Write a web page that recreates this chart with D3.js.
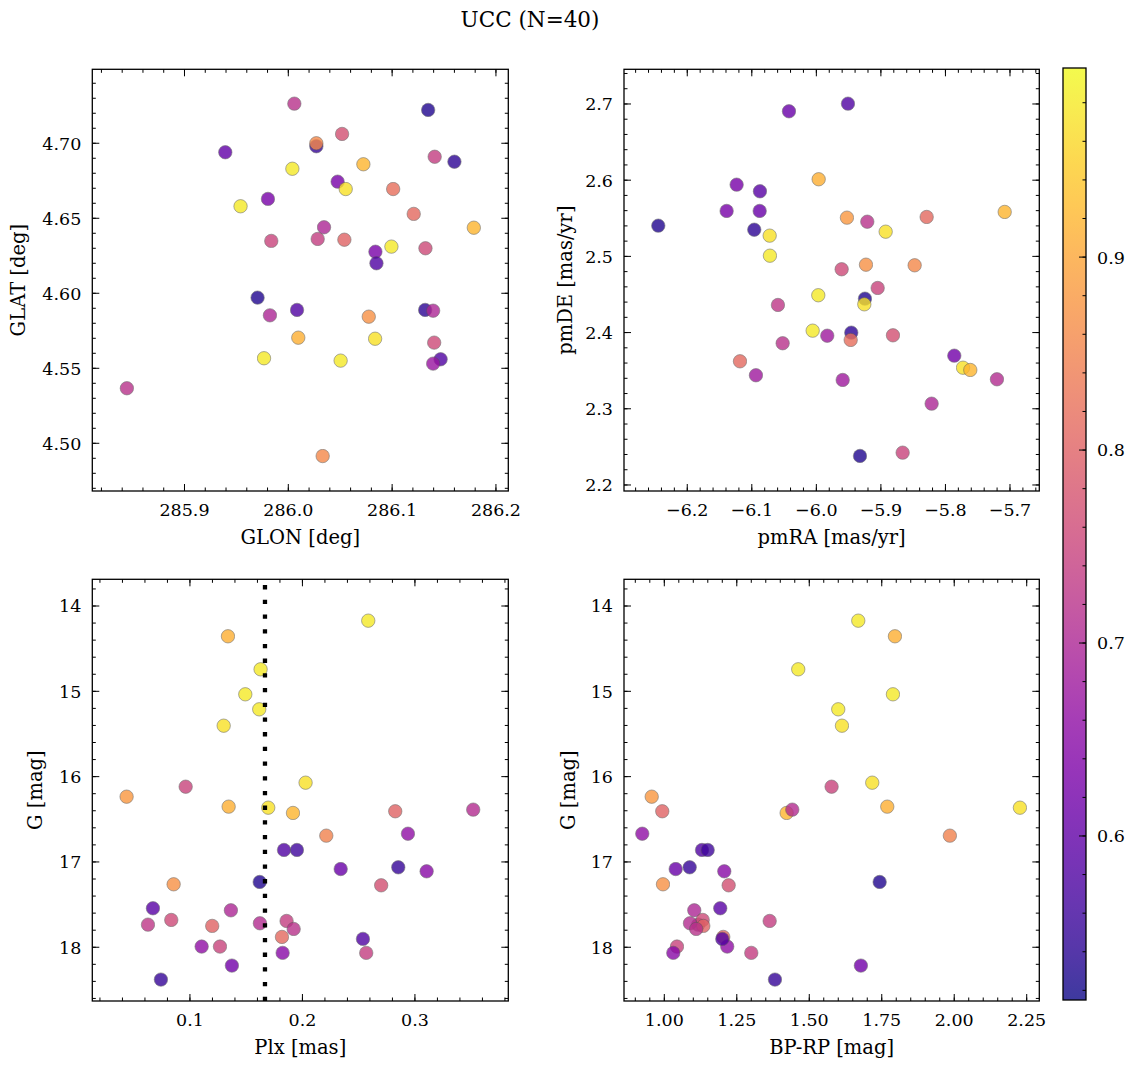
<!DOCTYPE html>
<html><head><meta charset="utf-8">
<script src="https://cdn.jsdelivr.net/npm/d3@7"></script>
<style>body{margin:0;background:#fff}svg text{font-family:"DejaVu Serif",serif;fill:#000}</style>
</head><body><svg id="c" width="1136" height="1068"></svg>
<script>
// ---- data ----
const glon = [286.0058,286.1347,286.0518,286.027,285.9393,286.141,286.160,286.0039,286.0723,286.0475,286.0553,286.101,285.9804,285.954,286.1208,286.1787,286.0344,285.9836,286.0283,286.054,286.0839,286.0993,286.1321,286.0849,285.9704,286.0084,285.9823,286.1318,286.1395,286.0775,286.0096,286.0836,286.1405,285.9766,286.0504,286.1467,286.1395,285.8445,286.0331,286.027];
const glat = [4.7264,4.7222,4.7062,4.6980,4.694,4.691,4.6877,4.683,4.686,4.6744,4.6695,4.6695,4.6629,4.658,4.6529,4.6437,4.644,4.6349,4.6362,4.6357,4.6277,4.6311,4.630,4.620,4.5971,4.5889,4.5853,4.5889,4.5884,4.5844,4.5704,4.5697,4.5671,4.5567,4.5551,4.556,4.5531,4.5367,4.4915,4.7000];
const probPos = [0.72,0.53,0.77,0.55,0.60,0.74,0.54,0.98,0.92,0.63,0.97,0.82,0.63,0.98,0.81,0.92,0.70,0.75,0.74,0.80,0.63,0.98,0.76,0.58,0.53,0.58,0.70,0.54,0.70,0.87,0.91,0.97,0.76,0.98,0.98,0.58,0.67,0.72,0.86,0.86];

const pmra = [-5.951,-6.0424,-5.9964,-6.1235,-6.0874,-6.139,-6.0878,-5.7082,-5.9526,-5.8291,-5.9211,-6.2449,-6.0962,-6.0723,-5.8926,-6.0719,-5.9608,-5.9231,-5.8477,-5.905,-5.997,-5.9247,-5.9257,-6.0595,-6.0057,-5.9831,-5.9459,-5.9468,-5.8813,-6.0522,-5.7863,-6.1183,-5.7728,-5.7615,-6.0936,-5.9592,-5.7202,-5.8214,-5.8663,-5.9324];
const pmde = [2.7004,2.6904,2.6012,2.5941,2.5854,2.5596,2.5596,2.5583,2.5508,2.5517,2.5455,2.5403,2.535,2.5272,2.5324,2.5009,2.4831,2.4891,2.4883,2.4585,2.449,2.4445,2.4371,2.4362,2.4025,2.3959,2.3999,2.3903,2.3964,2.386,2.3697,2.3623,2.3539,2.3509,2.344,2.3378,2.3387,2.3067,2.2424,2.2381];
const probPM = [0.58,0.61,0.91,0.63,0.59,0.63,0.61,0.92,0.88,0.81,0.72,0.53,0.54,0.97,0.97,0.98,0.76,0.87,0.86,0.75,0.98,0.53,0.97,0.73,0.98,0.68,0.54,0.82,0.77,0.72,0.62,0.81,0.97,0.92,0.68,0.68,0.71,0.70,0.75,0.53];

const gmag = [14.172,14.355,14.742,15.035,15.211,15.403,16.071,16.118,16.235,16.352,16.364,16.426,16.406,16.387,16.692,16.669,16.860,16.860,17.083,17.063,17.11,17.235,17.274,17.262,17.543,17.567,17.735,17.680,17.75,17.719,17.692,17.786,17.879,17.992,17.992,18.066,17.902,18.066,18.215,18.379];
const plx = [0.2585,0.1338,0.1628,0.1492,0.1616,0.13,0.2028,0.0962,0.0437,0.1344,0.1696,0.1916,0.2825,0.3518,0.2212,0.2938,0.1836,0.1951,0.234,0.2852,0.3104,0.162,0.27,0.0855,0.0671,0.1364,0.0627,0.0834,0.1198,0.1622,0.1859,0.1922,0.1818,0.1104,0.1267,0.1824,0.2538,0.2567,0.1373,0.0742];
const bprp = [1.669,1.7955,1.462,1.7886,1.60,1.6128,1.7172,1.577,0.9566,1.769,2.2266,1.422,0.993,1.4414,1.985,0.924,1.13,1.1497,1.0393,1.0876,1.2069,1.7428,1.222,0.9955,1.193,1.1034,1.117,1.1324,1.1345,1.0886,1.3634,1.11,1.2034,1.217,1.0438,1.031,1.20,1.30,1.678,1.3817];
const probPhot = [0.98,0.91,0.98,0.98,0.98,0.97,0.97,0.75,0.88,0.91,0.97,0.92,0.80,0.71,0.85,0.66,0.58,0.56,0.61,0.55,0.65,0.53,0.77,0.87,0.59,0.70,0.73,0.76,0.80,0.71,0.74,0.72,0.81,0.66,0.75,0.65,0.58,0.74,0.62,0.55];
const plxLine = 0.1667;

const title = "UCC (N=40)";
const cbarTicks = [0.6,0.7,0.8,0.9];
const cbarDomain = [0.515,0.998];

// ---- drawing ----
const svg = d3.select("#c");
const color = d3.scaleSequential(d3.interpolatePlasma).domain(cbarDomain);
const FS = 17.5, LFS = 19.5;

svg.append("text").attr("x",530).attr("y",27).attr("text-anchor","middle").attr("font-size",21.5).text(title);

function range(a,b,s){const o=[];for(let v=a;v<=b+s*1e-6;v+=s)o.push(+v.toFixed(6));return o;}

function panel(o){
  const g = svg.append("g");
  const x = d3.scaleLinear().domain(o.xd).range([o.x0,o.x1]);
  const y = d3.scaleLinear().domain(o.yd).range(o.yInv?[o.y0,o.y1]:[o.y1,o.y0]);
  const clipId = "clip"+o.id;
  svg.append("clipPath").attr("id",clipId).append("rect").attr("x",o.x0).attr("y",o.y0).attr("width",o.x1-o.x0).attr("height",o.y1-o.y0);
  const pts = g.append("g").attr("clip-path",`url(#${clipId})`);
  o.data.forEach(d=>{
    pts.append("circle").attr("cx",x(d[0])).attr("cy",y(d[1])).attr("r",6.7)
      .attr("fill",color(d[2])).attr("stroke","#555").attr("stroke-width",0.6).attr("opacity",0.8);
  });
  if(o.vline!==undefined){
    pts.append("line").attr("x1",x(o.vline)).attr("x2",x(o.vline)).attr("y1",o.y1).attr("y2",o.y0)
      .attr("stroke","#000").attr("stroke-width",4.3).attr("stroke-dasharray","4.3,10.4");
  }
  const tk = g.append("g").attr("stroke","#000").attr("stroke-width",1);
  const inX = v=>{const p=x(v);return p>=o.x0-0.5&&p<=o.x1+0.5;};
  const inY = v=>{const p=y(v);return p>=o.y0-0.5&&p<=o.y1+0.5;};
  o.xmin.filter(inX).forEach(v=>{const p=x(v);
    tk.append("line").attr("x1",p).attr("x2",p).attr("y1",o.y1).attr("y2",o.y1-3.5);
    tk.append("line").attr("x1",p).attr("x2",p).attr("y1",o.y0).attr("y2",o.y0+3.5);});
  o.xmaj.filter(inX).forEach(v=>{const p=x(v);
    tk.append("line").attr("x1",p).attr("x2",p).attr("y1",o.y1).attr("y2",o.y1-7);
    tk.append("line").attr("x1",p).attr("x2",p).attr("y1",o.y0).attr("y2",o.y0+7);
    g.append("text").attr("x",p).attr("y",o.y1+25).attr("text-anchor","middle").attr("font-size",FS).text(d3.format(o.xf)(v));});
  o.ymin.filter(inY).forEach(v=>{const p=y(v);
    tk.append("line").attr("x1",o.x0).attr("x2",o.x0+3.5).attr("y1",p).attr("y2",p);
    tk.append("line").attr("x1",o.x1).attr("x2",o.x1-3.5).attr("y1",p).attr("y2",p);});
  o.ymaj.filter(inY).forEach(v=>{const p=y(v);
    tk.append("line").attr("x1",o.x0).attr("x2",o.x0+7).attr("y1",p).attr("y2",p);
    tk.append("line").attr("x1",o.x1).attr("x2",o.x1-7).attr("y1",p).attr("y2",p);
    g.append("text").attr("x",o.x0-11).attr("y",p+6.4).attr("text-anchor","end").attr("font-size",FS).text(d3.format(o.yf)(v));});
  g.append("rect").attr("x",o.x0).attr("y",o.y0).attr("width",o.x1-o.x0).attr("height",o.y1-o.y0)
    .attr("fill","none").attr("stroke","#000").attr("stroke-width",1.3);
  g.append("text").attr("x",(o.x0+o.x1)/2).attr("y",o.y1+53).attr("text-anchor","middle").attr("font-size",LFS).text(o.xl);
  g.append("text").attr("transform",`translate(${o.ylx},${(o.y0+o.y1)/2}) rotate(-90)`).attr("dy","0.35em")
    .attr("text-anchor","middle").attr("font-size",LFS).text(o.yl);
}

const zip3=(a,b,c)=>a.map((v,i)=>[v,b[i],c[i]]);

panel({id:1,x0:92.3,x1:508.3,y0:69.3,y1:491,xd:[285.8112,286.2119],yd:[4.4682,4.7493],
  data:zip3(glon,glat,probPos),xmaj:range(285.9,286.2,0.1),xmin:range(285.82,286.22,0.02),
  ymaj:range(4.50,4.70,0.05),ymin:range(4.47,4.75,0.01),xf:".1f",yf:".2f",xl:"GLON [deg]",yl:"GLAT [deg]",ylx:18});
panel({id:2,x0:624,x1:1039.3,y0:69.3,y1:491,xd:[-6.298,-5.6546],yd:[2.1921,2.7455],
  data:zip3(pmra,pmde,probPM),xmaj:range(-6.2,-5.7,0.1),xmin:range(-6.30,-5.64,0.02),
  ymaj:range(2.2,2.7,0.1),ymin:range(2.2,2.74,0.02),xf:".1f",yf:".1f",xl:"pmRA [mas/yr]",yl:"pmDE [mas/yr]",ylx:565});
panel({id:3,x0:92.3,x1:508.3,y0:579.3,y1:1001,xd:[0.0132,0.383],yd:[13.687,18.63],yInv:true,
  data:zip3(plx,gmag,probPhot),xmaj:range(0.1,0.3,0.1),xmin:range(0.02,0.38,0.02),
  ymaj:range(14,18,1),ymin:range(13.8,18.6,0.2),xf:".1f",yf:"d",xl:"Plx [mas]",yl:"G [mag]",ylx:35,vline:plxLine});
panel({id:4,x0:624,x1:1039.3,y0:579.3,y1:1001,xd:[0.861,2.2934],yd:[13.687,18.63],yInv:true,
  data:zip3(bprp,gmag,probPhot),xmaj:range(1.0,2.25,0.25),xmin:range(0.9,2.3,0.05),
  ymaj:range(14,18,1),ymin:range(13.8,18.6,0.2),xf:".2f",yf:"d",xl:"BP-RP [mag]",yl:"G [mag]",ylx:568});

// colorbar
const cb = {x0:1063,x1:1086,y0:68,y1:1000};
const defs = svg.append("defs");
const grad = defs.append("linearGradient").attr("id","cbg").attr("x1",0).attr("y1",1).attr("x2",0).attr("y2",0);
d3.range(0,1.0001,0.05).forEach(t=>grad.append("stop").attr("offset",t).attr("stop-color",d3.interpolatePlasma(t)));
svg.append("rect").attr("x",cb.x0).attr("y",cb.y0).attr("width",cb.x1-cb.x0).attr("height",cb.y1-cb.y0)
  .attr("fill","url(#cbg)").attr("opacity",0.8);
const cy = d3.scaleLinear().domain(cbarDomain).range([cb.y1,cb.y0]);
range(0.52,0.99,0.02).forEach(v=>{svg.append("line").attr("x1",cb.x1).attr("x2",cb.x1-3.5).attr("y1",cy(v)).attr("y2",cy(v)).attr("stroke","#000");});
cbarTicks.forEach(v=>{
  svg.append("line").attr("x1",cb.x1).attr("x2",cb.x1-7).attr("y1",cy(v)).attr("y2",cy(v)).attr("stroke","#000");
  svg.append("text").attr("x",cb.x1+11).attr("y",cy(v)+6.4).attr("font-size",FS).text(d3.format(".1f")(v));
});
svg.append("rect").attr("x",cb.x0).attr("y",cb.y0).attr("width",cb.x1-cb.x0).attr("height",cb.y1-cb.y0)
  .attr("fill","none").attr("stroke","#000").attr("stroke-width",1.3);
</script></body></html>
